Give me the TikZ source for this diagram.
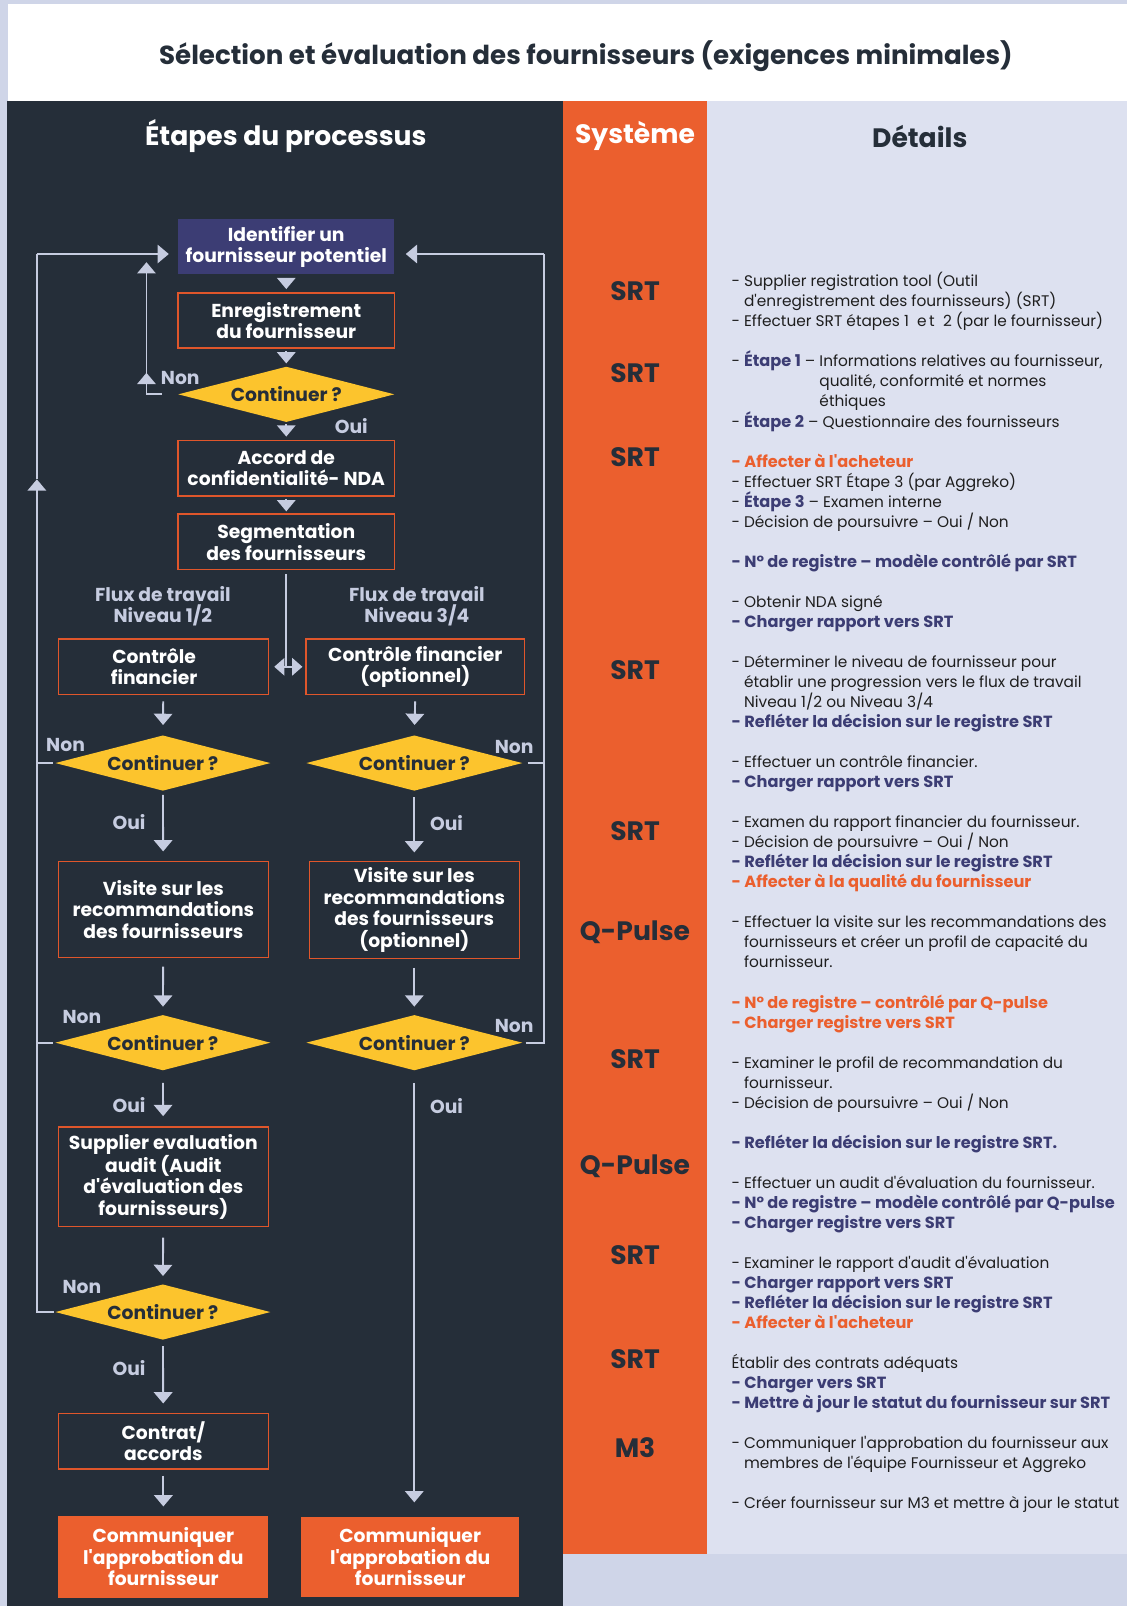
\documentclass[tikz,border=0pt]{standalone}
\usepackage{fontspec}
\setmainfont{Poppins}[Ligatures=TeXOff]
\usetikzlibrary{arrows.meta,shapes.geometric}
\definecolor{lav}{HTML}{CFD5E8}
\definecolor{dark}{HTML}{252E39}
\definecolor{org}{HTML}{EB5F2E}
\definecolor{det}{HTML}{DDE1F0}
\definecolor{ind}{HTML}{3C3D74}
\definecolor{yel}{HTML}{FCC42D}
\definecolor{arr}{HTML}{C6CCE0}
\definecolor{bord}{HTML}{E0562B}
\definecolor{txt}{HTML}{1E1E1E}
\newcommand{\hi}[1]{\textcolor{ind}{\bfseries\fontsize{15.8}{19}\selectfont #1}}
\newcommand{\ho}[1]{\textcolor{org}{\bfseries\fontsize{15.8}{19}\selectfont #1}}
\newcommand{\boxfont}{\bfseries\fontsize{18.3}{21}\selectfont}
\begin{document}
\begin{tikzpicture}[x=1pt,y=-1pt,
  box/.style={draw=bord, line width=1.5pt, fill=dark, text=white, font=\boxfont, align=center, inner sep=0pt},
  idbox/.style={fill=ind, text=white, font=\boxfont, align=center, inner sep=0pt},
  combox/.style={fill=org, text=white, font=\boxfont, align=center, inner sep=0pt},
  dec/.style={diamond, shape aspect=3.9, fill=yel, inner sep=0pt, minimum width=211pt, minimum height=54pt, text=dark, font=\boxfont},
  ln/.style={draw=arr, line width=1.8pt},
  arw/.style={ln, -{Triangle[width=18pt,length=11pt]}},
  lbl/.style={text=arr, font=\bfseries\fontsize{18.3}{21}\selectfont, align=center, inner sep=0pt},
  sys/.style={text=dark, font=\bfseries\fontsize{26}{30}\selectfont, inner sep=0pt},
  hdr/.style={font=\bfseries\fontsize{26}{30}\selectfont, inner sep=0pt},
  dtxt/.style={text=txt, font=\fontsize{15}{19}\selectfont, inner sep=0pt, anchor=base west}
]
\useasboundingbox (0,0) rectangle (1100,1568);
% backgrounds
\fill[lav] (0,0) rectangle (1100,1568);
\fill[white] (8,4) rectangle (1100,99);
\fill[dark] (7,99) rectangle (550,1568);
\fill[org] (550,99) rectangle (690,1517);
\fill[det] (690,99) rectangle (1100,1517);
% titles
\node[hdr, text=dark, font=\bfseries\fontsize{25.5}{30}\selectfont] (title) at (572,55) {Sélection et évaluation des fournisseurs (exigences minimales)};
\node[hdr, text=white] (h1) at (279,133) {Étapes du processus};
\node[hdr, text=white] (h2) at (620,133) {Système};
\node[hdr, text=dark] (h3) at (898,133) {Détails};
% flowchart nodes
\node[idbox, minimum width=211pt, minimum height=54pt] (id) at (279.5,241) {Identifier un\\fournisseur potentiel};
\node[box, minimum width=211pt, minimum height=54pt] (reg) at (279.5,313) {Enregistrement\\du fournisseur};
\node[dec] (q1) at (279.5,385) {Continuer ?};
\node[box, minimum width=211pt, minimum height=54pt] (nda) at (279.5,457) {Accord de\\confidentialité- NDA};
\node[box, minimum width=211pt, minimum height=54pt] (seg) at (279.5,529) {Segmentation\\des fournisseurs};
\node[lbl] (fa) at (159,592) {Flux de travail\\Niveau 1/2};
\node[lbl] (fb) at (407,592) {Flux de travail\\Niveau 3/4};
\node[box, minimum width=205pt, minimum height=54pt] (cf1) at (159.5,651) {Contrôle\hspace*{18pt}\\financier\hspace*{18pt}};
\node[box, minimum width=213pt, minimum height=54pt] (cf2) at (405.5,651) {Contrôle financier\\(optionnel)};
\node[dec, minimum width=210pt] (q2) at (159,745) {Continuer ?};
\node[dec] (q3) at (404.5,745) {Continuer ?};
\node[box, minimum width=205pt, minimum height=94pt] (vr1) at (159.5,888) {Visite sur les\\recommandations\\des fournisseurs};
\node[box, minimum width=205pt, minimum height=95pt] (vr2) at (404.5,888.5) {Visite sur les\\recommandations\\des fournisseurs\\(optionnel)};
\node[dec, minimum width=210pt] (q4) at (159,1018) {Continuer ?};
\node[dec] (q5) at (404.5,1018) {Continuer ?};
\node[box, minimum width=205pt, minimum height=97pt] (sea) at (159.5,1149) {Supplier evaluation\\audit (Audit\\d'évaluation des\\fournisseurs)};
\node[dec, minimum width=210pt] (q6) at (159,1281) {Continuer ?};
\node[box, minimum width=205pt, minimum height=54pt] (con) at (159.5,1407) {Contrat/\\accords};
\node[combox, minimum width=205pt, minimum height=80pt] (cm1) at (159.5,1520) {Communiquer\\l'approbation du\\fournisseur};
\node[combox, minimum width=213pt, minimum height=78pt] (cm2) at (400.5,1520) {Communiquer\\l'approbation du\\fournisseur};
% yes/no labels
\node[lbl] (n1) at (176,369) {Non};
\node[lbl] (o1) at (343,416) {Oui};
\node[lbl] (n2) at (64,727) {Non};
\node[lbl] (o2) at (126,803) {Oui};
\node[lbl] (n3) at (502,729) {Non};
\node[lbl] (o3) at (436,804) {Oui};
\node[lbl] (n4) at (80,993) {Non};
\node[lbl] (o4) at (126,1079) {Oui};
\node[lbl] (n5) at (502,1002) {Non};
\node[lbl] (o5) at (436,1080) {Oui};
\node[lbl] (n6) at (80,1257) {Non};
\node[lbl] (o6) at (126,1336) {Oui};
% main arrows
\draw[arw, shorten <=3pt, shorten >=3pt] (id) -- (reg);
\draw[arw, shorten <=2pt, shorten >=3pt] (reg) -- (q1);
\draw[arw, shorten <=2pt, shorten >=3pt] (q1) -- (nda);
\draw[arw, shorten <=2pt, shorten >=2pt] (nda) -- (seg);
\coordinate (split) at (seg.south |- cf1.east);
\draw[ln, shorten <=4pt] (seg.south) -- (split);
\draw[ln, {Triangle[width=17pt,length=10pt]}-{Triangle[width=17pt,length=10pt]}, shorten <=5pt, shorten >=3pt] (cf1.east) -- (cf2.west);
\draw[arw, shorten <=6pt, shorten >=10pt] (cf1) -- (q2);
\draw[arw, shorten <=6pt, shorten >=10pt] (cf2.south) -- (q3.north);
\draw[arw, shorten <=4pt, shorten >=9pt] (q2) -- (vr1);
\draw[arw, shorten <=6pt, shorten >=8pt] (q3) -- (vr2);
\draw[arw, shorten <=8pt, shorten >=8pt] (vr1) -- (q4);
\draw[arw, shorten <=8pt, shorten >=8pt] (vr2) -- (q5);
\draw[arw, shorten <=12pt, shorten >=10pt] (q4) -- (sea);
\draw[arw, shorten <=10pt, shorten >=8pt] (sea) -- (q6);
\draw[arw, shorten <=6pt, shorten >=9pt] (q6) -- (con);
\draw[arw, shorten <=6pt, shorten >=9pt] (con) -- (cm1);
\draw[arw, shorten <=12pt, shorten >=14pt] (q5.south) -- (q5.south |- cm2.north);
% small loop at q1
\coordinate (s1) at (143,256);
\coordinate (s2) at (143,364);
\draw[arw] ([xshift=-16pt]q1.west) -- (q1.west -| s1) -- (s2);
\draw[arw] (s2) -- (s1);
% left outer loop
\coordinate (L1) at (36,248);
\coordinate (Lm) at (36,468);
\draw[arw] ([xshift=-1pt]q6.west) -- (q6.west -| L1) -- (Lm);
\draw[ln] (Lm) -- (L1);
\draw[arw, shorten >=9pt] (L1) -- (L1 -| id.west);
\draw[ln] ([xshift=-2pt]q2.west) -- (q2.west -| L1);
\draw[ln] ([xshift=-2pt]q4.west) -- (q4.west -| L1);
% right outer loop
\coordinate (R1) at (531,248);
\draw[ln] ([xshift=3pt]q5.east) -- (q5.east -| R1) -- (R1);
\draw[arw, shorten >=11pt] (R1) -- (R1 -| id.east);
\draw[ln] ([xshift=5pt]q3.east) -- (q3.east -| R1);
% system column
\node[sys] (s_a) at (620,284) {SRT};
\node[sys] (s_b) at (620,364) {SRT};
\node[sys] (s_c) at (620,446) {SRT};
\node[sys] (s_d) at (620,654) {SRT};
\node[sys] (s_e) at (620,811) {SRT};
\node[sys] (s_f) at (620,910) {Q-Pulse};
\node[sys] (s_g) at (620,1034) {SRT};
\node[sys] (s_h) at (620,1139) {Q-Pulse};
\node[sys] (s_i) at (620,1225) {SRT};
\node[sys] (s_j) at (620,1327) {SRT};
\node[sys] (s_k) at (620,1413) {M3};
% details column
\foreach \k/\t in {
 0/{- Supplier registration tool (Outil},
 1/{\phantom{- }d'enregistrement des fournisseurs) (SRT)},
 2/{- Effectuer SRT étapes 1\ \ e\,t\ \ 2 (par le fournisseur)},
 4/{- \hi{Étape 1} – Informations relatives au fournisseur,},
 5/{\phantom{- \hi{Étape 1} – }qualité, conformité et normes},
 6/{\phantom{- \hi{Étape 1} – }éthiques},
 7/{- \hi{Étape 2} – Questionnaire des fournisseurs},
 9/{\ho{- Affecter à l'acheteur}},
 10/{- Effectuer SRT Étape 3 (par Aggreko)},
 11/{- \hi{Étape 3} – Examen interne},
 12/{- Décision de poursuivre – Oui / Non},
 14/{\hi{- N° de registre – modèle contrôlé par SRT}},
 16/{- Obtenir NDA signé},
 17/{\hi{- Charger rapport vers SRT}},
 19/{- Déterminer le niveau de fournisseur pour},
 20/{\phantom{- }établir une progression vers le flux de travail},
 21/{\phantom{- }Niveau 1/2 ou Niveau 3/4},
 22/{\hi{- Refléter la décision sur le registre SRT}},
 24/{- Effectuer un contrôle financier.},
 25/{\hi{- Charger rapport vers SRT}},
 27/{- Examen du rapport financier du fournisseur.},
 28/{- Décision de poursuivre – Oui / Non},
 29/{\hi{- Refléter la décision sur le registre SRT}},
 30/{\ho{- Affecter à la qualité du fournisseur}},
 32/{- Effectuer la visite sur les recommandations des},
 33/{\phantom{- }fournisseurs et créer un profil de capacité du},
 34/{\phantom{- }fournisseur.},
 36/{\ho{- N° de registre – contrôlé par Q-pulse}},
 37/{\ho{- Charger registre vers SRT}},
 39/{- Examiner le profil de recommandation du},
 40/{\phantom{- }fournisseur.},
 41/{- Décision de poursuivre – Oui / Non},
 43/{\hi{- Refléter la décision sur le registre SRT.}},
 45/{- Effectuer un audit d'évaluation du fournisseur.},
 46/{\hi{- N° de registre – modèle contrôlé par Q-pulse}},
 47/{\hi{- Charger registre vers SRT}},
 49/{- Examiner le rapport d'audit d'évaluation},
 50/{\hi{- Charger rapport vers SRT}},
 51/{\hi{- Refléter la décision sur le registre SRT}},
 52/{\ho{- Affecter à l'acheteur}},
 54/{Établir des contrats adéquats},
 55/{\hi{- Charger vers SRT}},
 56/{\hi{- Mettre à jour le statut du fournisseur sur SRT}},
 58/{- Communiquer l'approbation du fournisseur aux},
 59/{\phantom{- }membres de l'équipe Fournisseur et Aggreko},
 61/{- Créer fournisseur sur M3 et mettre à jour le statut}}
 \node[dtxt] (d\k) at (714,{280+\k*19.56}) {\t};
\end{tikzpicture}
\end{document}
